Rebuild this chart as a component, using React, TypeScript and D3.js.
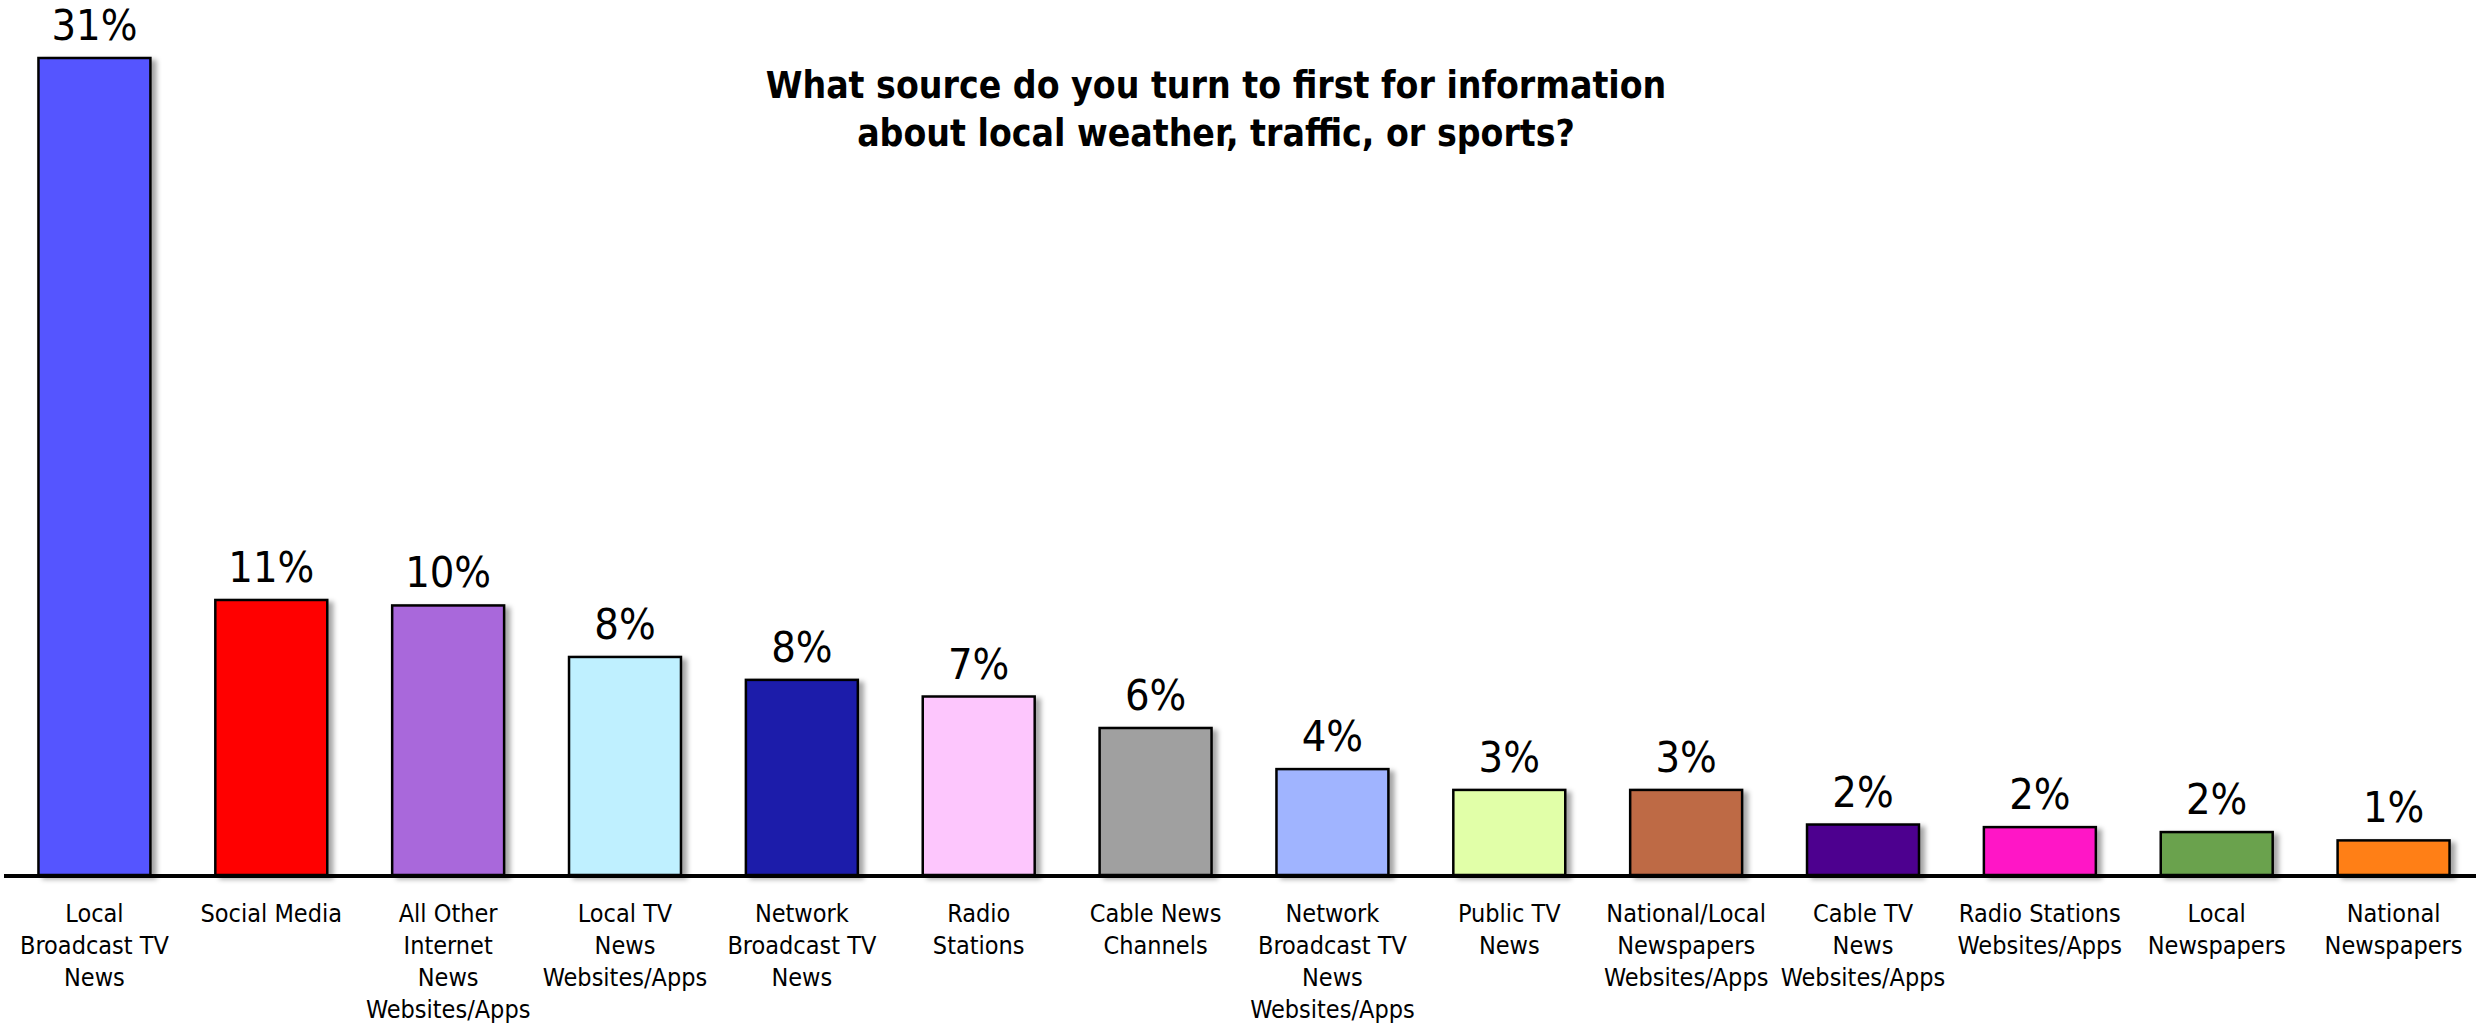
import React from "react";
import * as d3 from "d3";

const W = 2476;
const H = 1023;

const categories: string[][] = [
  ["Local", "Broadcast TV", "News"],
  ["Social Media"],
  ["All Other", "Internet", "News", "Websites/Apps"],
  ["Local TV", "News", "Websites/Apps"],
  ["Network", "Broadcast TV", "News"],
  ["Radio", "Stations"],
  ["Cable News", "Channels"],
  ["Network", "Broadcast TV", "News", "Websites/Apps"],
  ["Public TV", "News"],
  ["National/Local", "Newspapers", "Websites/Apps"],
  ["Cable TV", "News", "Websites/Apps"],
  ["Radio Stations", "Websites/Apps"],
  ["Local", "Newspapers"],
  ["National", "Newspapers"],
];

const values: number[] = [31.4, 10.57, 10.36, 8.38, 7.5, 6.86, 5.65, 4.07, 3.27, 3.27, 1.94, 1.84, 1.65, 1.33];

const colors: string[] = [
  "#5555FF", "#FF0505", "#A967DB", "#BFF0FF", "#1C1CAA", "#FDC6FD", "#A0A0A0",
  "#A0B4FF", "#E1FFA8", "#BE6A45", "#4E068F", "#FF18C6", "#6BA24E", "#FF7F14",
];

const titleLines: string[] = [
  "What source do you turn to first for information",
  "about local weather, traffic, or sports?",
];

const FONT = "'DejaVu Sans Condensed', 'DejaVu Sans', sans-serif";

export default function App() {
  const idx = values.map((_, i) => i);
  const x = d3.scaleBand<number>().domain(idx).range([6, 2482]).paddingInner(0.367).paddingOuter(0.1835);
  const y = d3.scaleLinear().domain([0, 31.4]).range([875, 58]);
  const fmt = (v: number) => `${Math.round(v)}%`;

  return (
    <svg
      width={W}
      height={H}
      viewBox={`0 0 ${W} ${H}`}
      style={{ position: "absolute", left: 0, top: 0, display: "block", background: "#fff" }}
    >
      <defs>
        <filter id="shadow" x="-20%" y="-20%" width="150%" height="150%">
          <feDropShadow dx="5" dy="3" stdDeviation="2.5" floodColor="#000" floodOpacity="0.35" />
        </filter>
      </defs>
      <rect x={0} y={0} width={W} height={H} fill="#fff" />
      {titleLines.map((t, i) => (
        <text
          key={i}
          x={1216}
          y={98 + i * 48}
          textAnchor="middle"
          fontFamily={FONT}
          fontWeight="bold"
          fontSize={37}
          fill="#000"
        >
          {t}
        </text>
      ))}
      {values.map((v, i) => (
        <g key={i}>
          <rect
            x={x(i)!}
            y={y(v)}
            width={x.bandwidth()}
            height={y(0) - y(v)}
            fill={colors[i]}
            stroke="#000"
            strokeWidth={2.5}
            filter="url(#shadow)"
          />
          <text
            x={x(i)! + x.bandwidth() / 2}
            y={y(v) - 18}
            textAnchor="middle"
            fontFamily={FONT}
            fontSize={43}
            fill="#000"
          >
            {fmt(v)}
          </text>
          {categories[i].map((line, j) => (
            <text
              key={j}
              x={x(i)! + x.bandwidth() / 2}
              y={922 + j * 32}
              textAnchor="middle"
              fontFamily={FONT}
              fontSize={25}
              fill="#000"
            >
              {line}
            </text>
          ))}
        </g>
      ))}
      <line x1={4} x2={W} y1={876} y2={876} stroke="#000" strokeWidth={4} />
    </svg>
  );
}
